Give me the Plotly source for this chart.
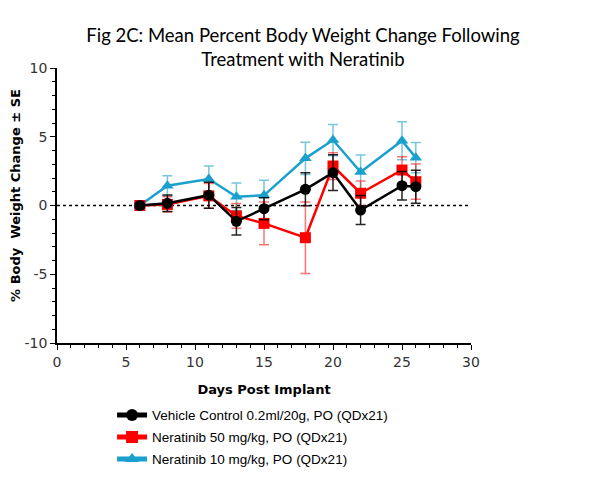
import plotly.graph_objects as go

days = [6, 8, 11, 13, 15, 18, 20, 22, 25, 26]

vehicle_mean = [0.0, 0.16, 0.75, -1.15, -0.23, 1.18, 2.39, -0.33, 1.44, 1.37]
vehicle_se = [0.15, 0.6, 0.95, 1.0, 0.8, 1.2, 1.3, 1.06, 1.04, 1.2]

nera50_mean = [0.0, 0.08, 0.7, -0.76, -1.3, -2.34, 2.87, 0.89, 2.58, 1.73]
nera50_se = [0.15, 0.55, 0.9, 0.9, 1.55, 2.6, 0.97, 0.9, 0.97, 1.28]

nera10_mean = [0.0, 1.44, 1.93, 0.64, 0.74, 3.43, 4.76, 2.44, 4.71, 3.48]
nera10_se = [0.15, 0.73, 0.94, 1.0, 1.1, 1.17, 1.14, 1.24, 1.38, 1.1]

names = ["Vehicle Control 0.2ml/20g, PO (QDx21)",
         "Neratinib 50 mg/kg, PO (QDx21)",
         "Neratinib 10 mg/kg, PO (QDx21)"]

x_ticks = [0, 5, 10, 15, 20, 25, 30]
y_ticks = [-10, -5, 0, 5, 10]
y_ticklabels = ["-10", "-5", "0", "5", "10"]

series = [
    (nera10_mean, nera10_se, names[2], "#1aa0cc", "rgba(26,160,204,0.6)", "triangle-up", 3),
    (nera50_mean, nera50_se, names[1], "#ff0000", "rgba(255,0,0,0.55)", "square", 2),
    (vehicle_mean, vehicle_se, names[0], "#000000", "rgba(0,0,0,0.85)", "circle", 1),
]

fig = go.Figure()
for mean, se, name, col, ecol, sym, rank in series:
    fig.add_trace(go.Scatter(
        x=days, y=mean, name=name, mode="lines+markers",
        legendgroup=f"g{rank}", legendrank=rank,
        line=dict(color=col, width=2.5),
        marker=dict(color=col, symbol=sym, size=11),
        error_y=dict(type="data", array=se, visible=True, color=ecol,
                     thickness=1.5, width=5),
    ))

fig.add_shape(type="line", x0=0, x1=30, y0=0, y1=0, xref="x", yref="y",
              line=dict(color="black", width=1.5, dash="dot"), layer="below")

fig.add_annotation(text="<b>% Body  Weight Change ± SE</b>", textangle=-90,
                   xref="paper", yref="paper", x=-0.099, y=0.535,
                   xanchor="center", yanchor="middle", showarrow=False,
                   font=dict(family="DejaVu Sans", size=13, color="black"))

tickfont = dict(family="DejaVu Sans", size=14, color="#333333")

fig.update_layout(
    width=590, height=470,
    paper_bgcolor="white", plot_bgcolor="white",
    margin=dict(l=49, r=127, t=60, b=135, autoexpand=False),
    title=dict(text="Fig 2C: Mean Percent Body Weight Change Following<br>Treatment with Neratinib",
               x=0.5, xanchor="center", y=0.928, yanchor="top", automargin=False,
               font=dict(family="Lato", size=18.5, color="black")),
    showlegend=True,
    legend=dict(x=0.133, y=-0.206, xanchor="left", yanchor="top",
                font=dict(family="Liberation Sans", size=13.5, color="black"),
                itemsizing="constant", tracegroupgap=1.5, bgcolor="rgba(0,0,0,0)"),
    xaxis=dict(range=[0, 30], tickvals=x_ticks, automargin=False,
               showgrid=False, zeroline=False, showline=True, linecolor="black",
               linewidth=1.5, ticks="outside", ticklen=5, tickcolor="black",
               minor=dict(dtick=1, ticks="outside", ticklen=3, tickcolor="black"),
               tickfont=tickfont,
               title=dict(text="<b>Days Post Implant</b>", standoff=16,
                          font=dict(family="DejaVu Sans", size=13, color="black"))),
    yaxis=dict(range=[-10, 10], tickvals=y_ticks, ticktext=y_ticklabels, automargin=False,
               showgrid=False, zeroline=False, showline=True, linecolor="black",
               linewidth=1.5, ticks="outside", ticklen=5, tickcolor="black",
               minor=dict(dtick=1, ticks="outside", ticklen=3, tickcolor="black"),
               tickfont=tickfont),
)

fig.write_html("out.html")
